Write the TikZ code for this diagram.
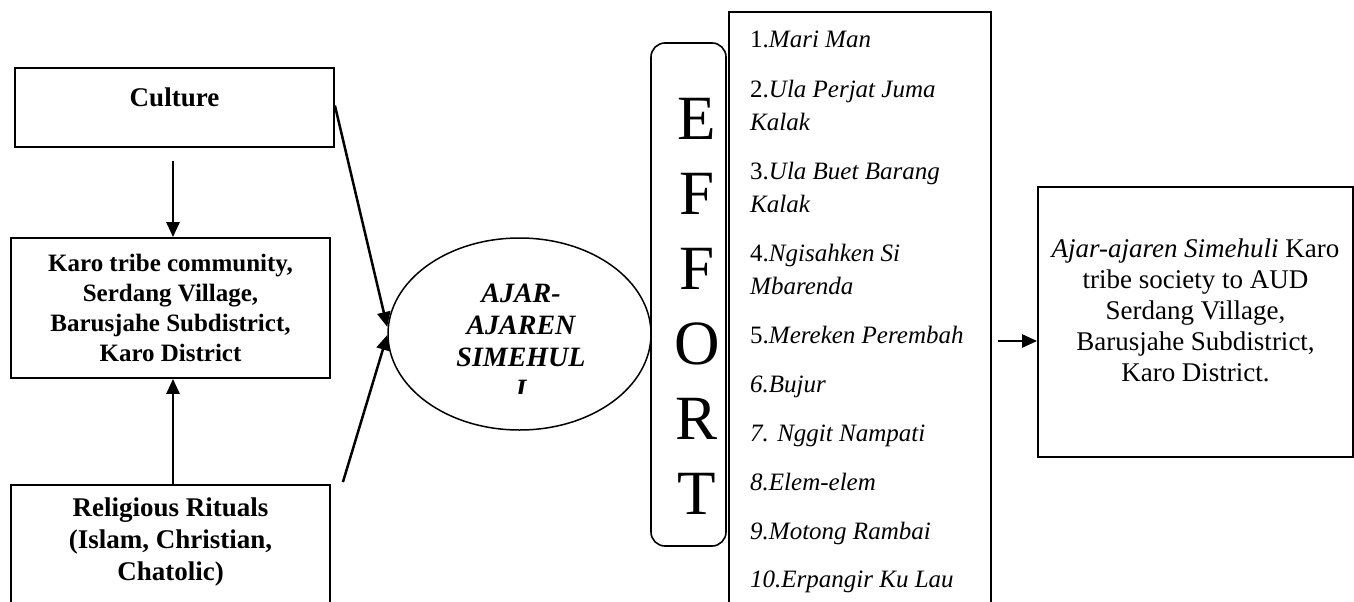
\documentclass[tikz,border=0pt]{standalone}
\usepackage{fontspec}
\setmainfont{Liberation Serif}
\usetikzlibrary{arrows.meta,shapes.geometric}
\begin{document}
\begin{tikzpicture}[x=1pt,y=-1pt,
  box/.style={draw,line width=1.8pt,inner sep=0pt},
  arr/.style={line width=2.5pt,-{Triangle[length=15pt,width=13pt]}},
  item/.style={anchor=base west,inner sep=0pt,font=\fontsize{25}{30}\selectfont},
  letter/.style={inner sep=0pt,font=\fontsize{63}{63}\selectfont}]
\useasboundingbox (0,0) rectangle (1354,602);

% left column
\node[box,minimum width=319pt,minimum height=79pt] (culture) at (174.5,107.5) {};
\node[inner sep=0pt,font=\bfseries\fontsize{27}{30}\selectfont] (culturet) at (174.5,97) {Culture};

\node[box,minimum width=319pt,minimum height=140pt,align=center,
      font=\bfseries\fontsize{25}{30}\selectfont] (karo) at (170.5,308)
  {Karo tribe community,\\Serdang Village,\\Barusjahe Subdistrict,\\Karo District};

\node[box,minimum width=319pt,minimum height=160pt] (relig) at (170.5,565) {};
\node[inner sep=0pt,align=center,font=\bfseries\fontsize{27}{32}\selectfont] (religt) at (170.5,542)
  {Religious Rituals\\(Islam, Christian,\\Chatolic)};

% ellipse
\node[draw,ellipse,line width=1.5pt,minimum width=263pt,minimum height=192pt,inner sep=0pt] (ell) at (519.5,334) {};
\begin{scope}
  \clip (400,250) rectangle (640,393);
  \node[inner sep=0pt,align=center,font=\bfseries\itshape\fontsize{28}{32}\selectfont] (ellt) at (521,341.5)
    {AJAR-\\AJAREN\\SIMEHUL\\I};
\end{scope}

% EFFORT
\node[draw,line width=1.6pt,rounded corners=14pt,minimum width=75pt,minimum height=503pt,inner sep=0pt] (effort) at (688.5,294.5) {};
\foreach \L [count=\i] in {E,F,F,O,R,T}
  \node[letter] (eff\i) at (697,{119+74.9*(\i-1)}) {\L};

% list
\node[box,minimum width=262pt,minimum height=640pt] (list) at (860,332) {};
\foreach \y/\t [count=\i] in {
  48/{1.\textit{Mari Man}},
  97/{2.\textit{Ula Perjat Juma}},
  130/{\textit{Kalak}},
  179/{3.\textit{Ula Buet Barang}},
  212/{\textit{Kalak}},
  261/{4.\textit{Ngisahken Si}},
  294/{\textit{Mbarenda}},
  343/{5.\textit{Mereken Perembah}},
  392/{\textit{6.Bujur}},
  441/{\textit{7. Nggit Nampati}},
  490/{\textit{8.Elem-elem}},
  539/{\textit{9.Motong Rambai}},
  587/{\textit{10.Erpangir Ku Lau}}}
  \node[item] (it\i) at (750,\y) {\t};

% final box
\node[box,minimum width=315pt,minimum height=270pt] (final) at (1195.5,322) {};
\node[inner sep=0pt,align=center,font=\fontsize{27}{31}\selectfont] (finalt) at (1195.5,310)
  {\textit{Ajar-ajaren Simehuli} Karo\\tribe society to AUD\\Serdang Village,\\Barusjahe Subdistrict,\\Karo District.};

% connectors
\draw[arr] ([xshift=-1.5pt,yshift=-13pt]culture.south) coordinate (c1) -- (c1 |- karo.north);
\draw[arr] ([xshift=2.5pt]relig.north) coordinate (r1) -- (r1 |- karo.south);
\draw[arr] ([yshift=2pt]culture.east) -- ([yshift=7pt]ell.west);
\draw[arr] ([xshift=12pt,yshift=2pt]relig.north east) -- ([yshift=-1pt]ell.west);
\coordinate (a1) at (998,341);
\draw[arr] (a1) -- (a1 -| final.west);
\end{tikzpicture}
\end{document}
